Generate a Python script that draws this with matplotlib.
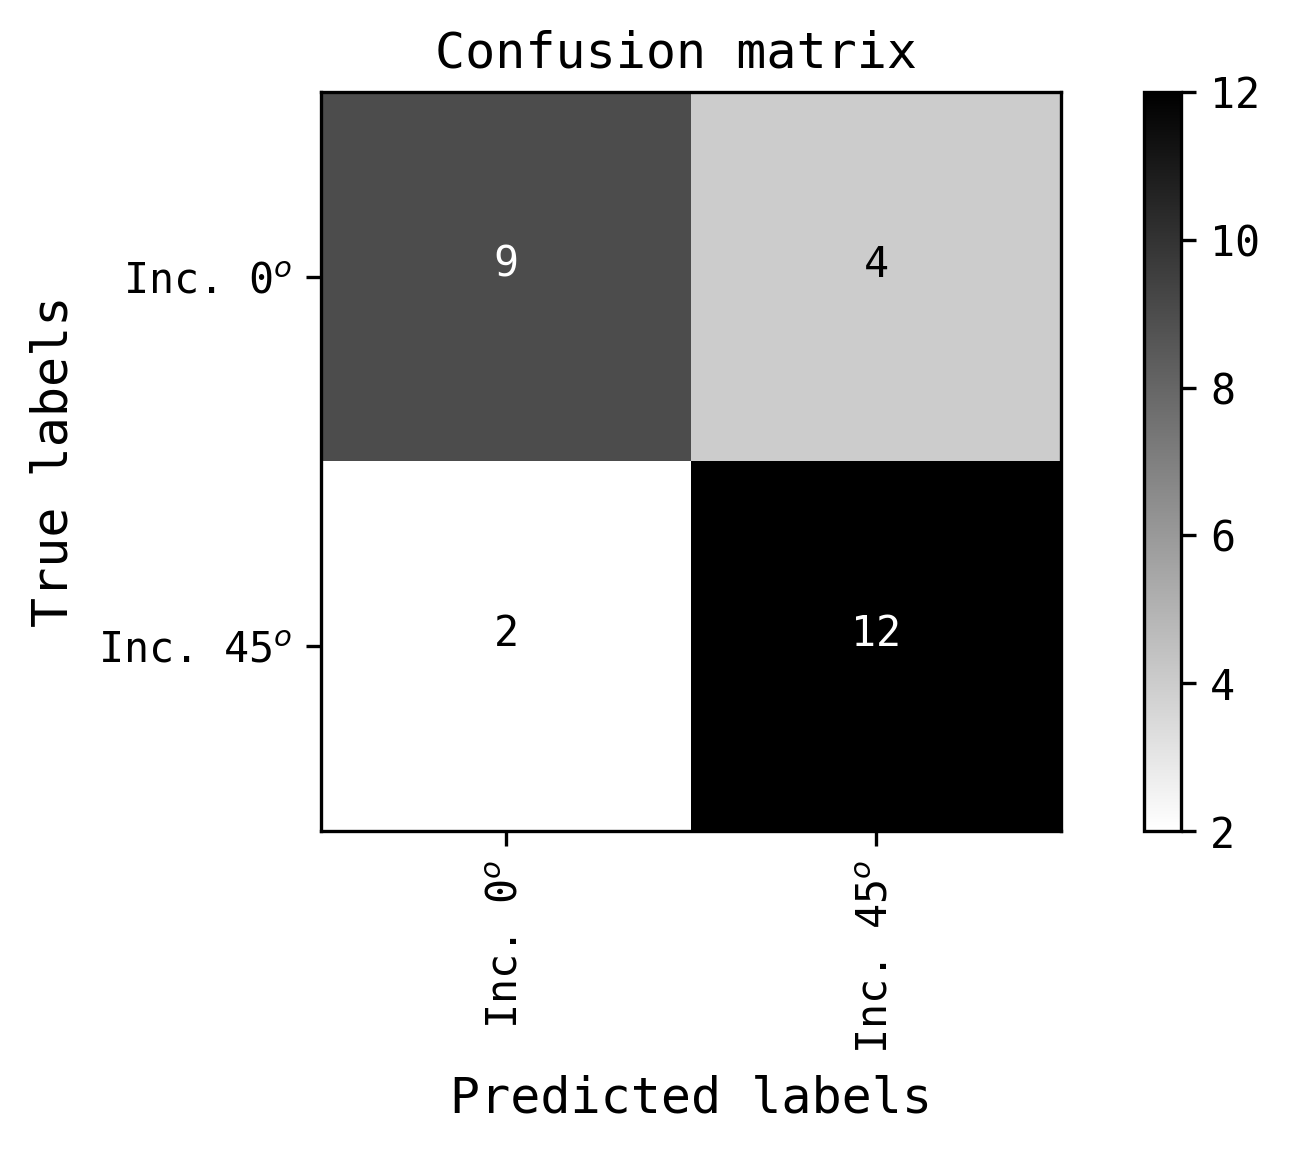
import numpy as np
import matplotlib
matplotlib.use("Agg")
import matplotlib.pyplot as plt

classes = ["Inc. 0$^o$", "Inc. 45$^o$"]
cm = np.array([[9, 4],
               [2, 12]])
cbar_ticks = [2, 4, 6, 8, 10, 12]

plt.rcParams['font.family'] = ['DejaVu Sans Mono']
plt.rcParams['font.size'] = 10

fig = plt.figure(figsize=(1289/300, 1153/300), dpi=300)
ax = fig.add_axes([321/1289, 1-831/1153, 740/1289, 739/1153])
cax = fig.add_axes([1144/1289, 1-831/1153, 37/1289, 739/1153])

im = ax.imshow(cm, interpolation='nearest', cmap='gray_r', aspect='auto')
ax.set_title("Confusion matrix ", fontsize=12)
cb = fig.colorbar(im, cax=cax)
cb.set_ticks(cbar_ticks)

ticks = np.arange(len(classes))
ax.set_xticks(ticks)
ax.set_xticklabels(classes, rotation=90)
ax.set_yticks(ticks)
ax.set_yticklabels(classes)

thresh = cm.max() / 2.
for i in range(cm.shape[0]):
    for j in range(cm.shape[1]):
        ax.text(j, i, format(cm[i, j], 'd'), ha="center",
                color="white" if cm[i, j] > thresh else "black")

ax.set_ylabel("True labels", fontsize=12, labelpad=4.8)
ax.set_xlabel("Predicted labels", fontsize=12, labelpad=4.8)

fig.savefig("out.png", dpi=300)
